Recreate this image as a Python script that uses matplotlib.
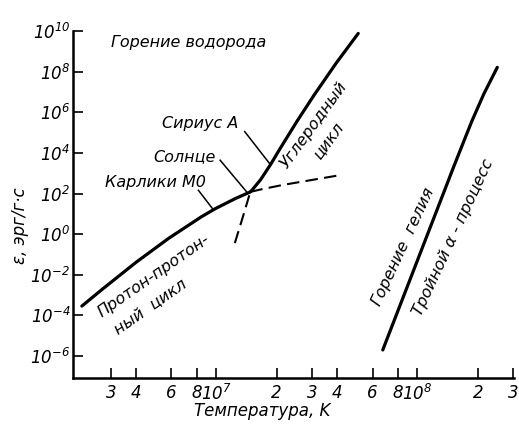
import numpy as np
import matplotlib
matplotlib.use('Agg')
import matplotlib.pyplot as plt
from matplotlib.ticker import FixedLocator, FixedFormatter, NullLocator

plt.rcParams['font.family'] = ['DejaVu Sans']
plt.rcParams['font.style'] = 'italic'
plt.rcParams['mathtext.default'] = 'it'

# ===== данные (lg T, lg ε) =====
# протон-протонный цикл (сплошная часть)
pp_lgT = [6.333, 6.436, 6.603, 6.765, 6.926, 6.995, 7.093, 7.170]
pp_lgE = [-3.54, -2.70, -1.38, -0.20, 0.85, 1.25, 1.74, 2.08]
# протон-протонный цикл (пунктир выше точки пересечения)
pp_dash_lgT = [7.170, 7.221, 7.330, 7.436, 7.613]
pp_dash_lgE = [2.08, 2.20, 2.42, 2.60, 2.90]
# углеродный цикл (сплошная часть)
cno_lgT = [7.170, 7.181, 7.221, 7.270, 7.319, 7.402, 7.485, 7.598, 7.706]
cno_lgE = [2.08, 2.20, 2.68, 3.42, 4.23, 5.56, 6.82, 8.44, 9.88]
# углеродный цикл (пунктир ниже)
cno_dash_lgT = [7.093, 7.132, 7.170]
cno_dash_lgE = [-0.44, 0.82, 2.08]
# тройной альфа-процесс
he_lgT = [7.828, 8.039, 8.186, 8.270, 8.330, 8.397]
he_lgE = [-5.70, -0.30, 3.46, 5.55, 6.90, 8.21]

# деления оси X
xtick_vals = [3e6, 4e6, 6e6, 8e6, 1e7, 2e7, 3e7, 4e7, 6e7, 8e7, 1e8, 2e8, 3e8]
xtick_labels = ['3', '4', '6', '8', r'$10^7$', '2', '3', '4', '6', '8', r'$10^8$', '2', '3']
ytick_pows = [-6, -4, -2, 0, 2, 4, 6, 8, 10]

# подписи звёзд: (lg T, lg ε) текста и отрезка-выноски
stars = ['Сириус А', 'Солнце', 'Карлики М0']
star_text = [(7.113, 5.45), (7.0, 3.8), (6.95, 2.55)]
star_from = [(7.142, 5.05), (7.020, 3.64), (6.912, 2.16)]
star_to = [(7.270, 3.42), (7.157, 2.02), (6.985, 1.22)]

fig = plt.figure(figsize=(5.19, 4.29), dpi=100)
ax = fig.add_axes([73/519, 1-378/429, (514-73)/519, (378-31)/429])

ax.plot(10**np.array(pp_lgT), 10**np.array(pp_lgE), color='black', lw=2.3,
        solid_capstyle='round', solid_joinstyle='round')
ax.plot(10**np.array(cno_lgT), 10**np.array(cno_lgE), color='black', lw=2.3,
        solid_capstyle='round', solid_joinstyle='round')
ax.plot(10**np.array(he_lgT), 10**np.array(he_lgE), color='black', lw=2.3,
        solid_capstyle='round', solid_joinstyle='round')
ax.plot(10**np.array(pp_dash_lgT), 10**np.array(pp_dash_lgE), color='black', lw=1.5, dashes=(6, 3))
ax.plot(10**np.array(cno_dash_lgT), 10**np.array(cno_dash_lgE), color='black', lw=1.5, dashes=(6, 3))

for name, (tx, ty), (fx, fy), (ex, ey) in zip(stars, star_text, star_from, star_to):
    ax.text(10**tx, 10**ty, name, ha='right', va='center', fontsize=11.5)
    ax.plot([10**fx, 10**ex], [10**fy, 10**ey], color='black', lw=1.1)

ax.text(10**6.48, 10**9.43, 'Горение водорода', ha='left', va='center', fontsize=11.5)
ax.text(10**6.431, 10**-4.1, 'Протон-протон-', rotation=35, rotation_mode='anchor',
        ha='left', va='baseline', fontsize=11.5)
ax.text(10**6.51, 10**-4.93, 'ный  цикл', rotation=35, rotation_mode='anchor',
        ha='left', va='baseline', fontsize=11.5)
ax.text(10**7.352, 10**3.2, 'Углеродный', rotation=54, rotation_mode='anchor',
        ha='left', va='baseline', fontsize=11.5)
ax.text(10**7.515, 10**3.66, 'цикл', rotation=54, rotation_mode='anchor',
        ha='left', va='baseline', fontsize=11.5)
ax.text(10**7.815, 10**-3.55, 'Горение  гелия', rotation=65, rotation_mode='anchor',
        ha='left', va='baseline', fontsize=11.5)
ax.text(10**7.966, 10**-3.81, 'Тройной α - процесс', rotation=65, rotation_mode='anchor',
        ha='left', va='top', fontsize=11.5)

ax.set_xscale('log')
ax.set_yscale('log')
ax.set_xlim(10**6.289, 10**8.48)
ax.set_ylim(10**-7.08, 10**10.0)

ax.xaxis.set_major_locator(FixedLocator(xtick_vals))
ax.xaxis.set_major_formatter(FixedFormatter(xtick_labels))
ax.xaxis.set_minor_locator(NullLocator())
ax.yaxis.set_major_locator(FixedLocator([10.0**p for p in ytick_pows]))
ax.yaxis.set_major_formatter(FixedFormatter([r'$10^{%d}$' % p for p in ytick_pows]))
ax.yaxis.set_minor_locator(NullLocator())
ax.tick_params(direction='in', length=7, width=1.2, labelsize=12, pad=4)
ax.tick_params(axis='y', pad=2)

for s in ['top', 'right']:
    ax.spines[s].set_visible(False)
for s in ['left', 'bottom']:
    ax.spines[s].set_linewidth(1.8)

ax.set_xlabel('Температура, K', fontsize=12)
ax.xaxis.set_label_coords(0.43, -0.07)
ax.set_ylabel('ε, эрг/г·с', fontsize=12)
ax.yaxis.set_label_coords(-0.10, 0.44)

fig.savefig('out.png', dpi=100)
